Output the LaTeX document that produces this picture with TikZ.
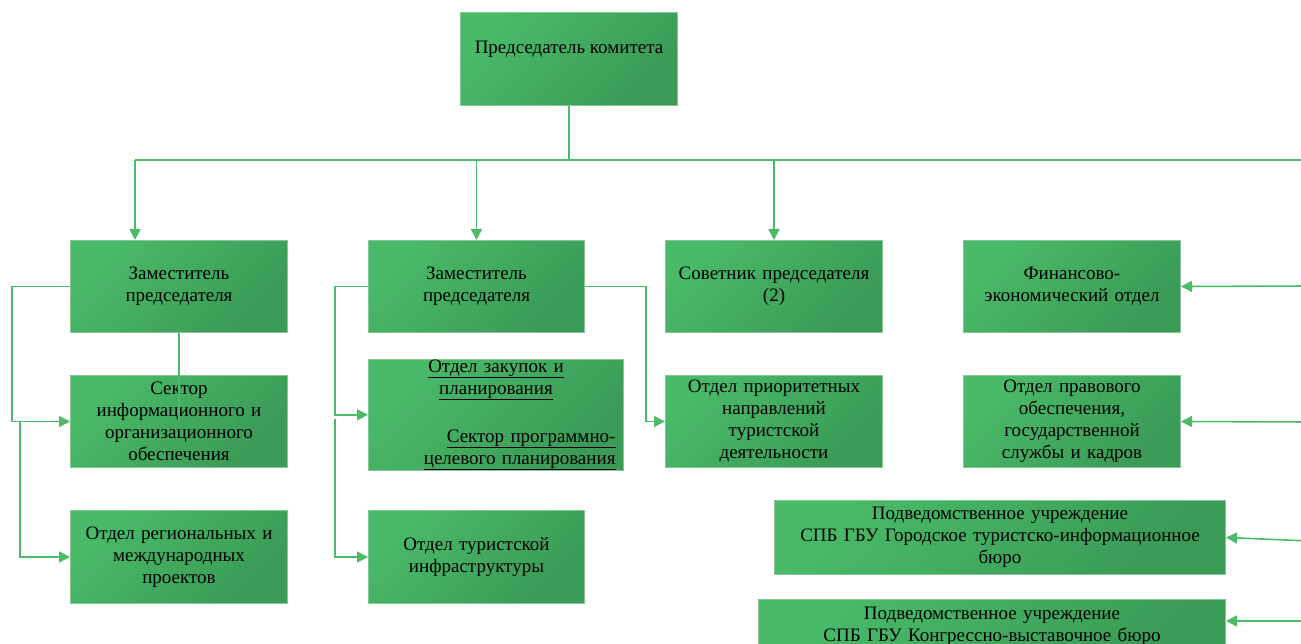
\documentclass[tikz,border=0pt]{standalone}
\usepackage{fontspec}
\setmainfont{Liberation Serif}
\usetikzlibrary{arrows.meta,positioning}
\definecolor{boxlight}{HTML}{49BA68}
\definecolor{boxdark}{HTML}{3A9A56}
\definecolor{boxline}{HTML}{86C597}
\definecolor{wire}{HTML}{4CBB68}
\tikzset{
  unit/.style={draw=boxline,line width=1pt,top color=boxlight,bottom color=boxdark,shading angle=45,
    anchor=north west,inner sep=0pt,align=center,font=\fontsize{19}{22}\selectfont},
  wire/.style={draw=wire,line width=1.6pt},
  >={Triangle[length=11pt,width=11pt]}
}
\newcommand{\ul}[1]{\underline{#1}}
\begin{document}
\begin{tikzpicture}[x=1pt,y=-1pt]
    \useasboundingbox (0,0) rectangle (1301,644);

    \node[unit,minimum width=217pt,minimum height=93pt,text depth=24pt] (0) at (460,12) {Председатель комитета};
    % first row
    \node[unit,minimum width=217pt,minimum height=92pt,text width=205pt] (1) at (70,240) {Заместитель\\председателя};
    \node[unit,minimum width=216pt,minimum height=92pt,text width=205pt] (2) at (368,240) {Заместитель\\председателя};
    \node[unit,minimum width=217pt,minimum height=92pt,text width=210pt] (3) at (665,240) {Советник председателя\\(2)};
    \node[unit,minimum width=217pt,minimum height=92pt,text width=205pt] (4) at (963,240) {Финансово-\\экономический отдел};
    % second row
    \node[unit,minimum width=217pt,minimum height=92pt,text width=205pt] (5) at (70,375) {Сектор\\информационного и\\организационного\\обеспечения};
    \node[unit,minimum width=255pt,minimum height=109pt,text width=239pt] (6) at (368,359)
        {\ul{Отдел закупок и}\\\ul{планирования}\\[26pt]\hskip 0pt plus 1fill\ul{Сектор программно-}\\\hskip 0pt plus 1fill\ul{целевого планирования}};
    \node[unit,minimum width=217pt,minimum height=92pt,text width=205pt] (7) at (665,375) {Отдел приоритетных\\направлений\\туристской\\деятельности};
    \node[unit,minimum width=217pt,minimum height=92pt,text width=205pt] (8) at (963,375) {Отдел правового\\обеспечения,\\государственной\\службы и кадров};
    % third row
    \node[unit,minimum width=217pt,minimum height=93pt,text width=205pt] (9) at (70,510) {Отдел региональных и\\международных\\проектов};
    \node[unit,minimum width=216pt,minimum height=93pt,text width=205pt] (10) at (368,510) {Отдел туристской\\инфраструктуры};
    \node[unit,minimum width=451pt,minimum height=74pt,text width=440pt] (11) at (774,500) {Подведомственное учреждение\\СПБ ГБУ Городское туристско-информационное\\бюро};
    \node[unit,minimum width=467pt,minimum height=74pt,text width=455pt,text depth=47pt] (12) at (758,599) {Подведомственное учреждение\\СПБ ГБУ Конгрессно-выставочное бюро};

    \coordinate (b1) at (135,160);
    \coordinate (b2) at (1310,160);
    \coordinate (c1) at (335,419);
    \coordinate (r1) at (1310,286);
    \coordinate (r2) at (1310,422);
    \coordinate (r3) at (1310,541);
    \coordinate (r4) at (1310,621);

    \draw [wire] (0.south) -- (0.south |- b1);
    \draw [wire] (b1) -- (b2);
    \draw [wire,->] (b1) -- (1.north -| b1);
    \draw [wire,->] (2.north |- b1) -- (2.north);
    \draw [wire,->] (3.north |- b1) -- (3.north);

    \draw [wire,->] (1.west) -- ++(-58,0) |- (5.west);
    \draw [wire,->] (5.west) ++(-50,0) |- (9.west);
    \draw [wire] (1.south) -- ++(0,88);
    \draw [wire,->] (2.west) -- ++(-33,0) |- (6.west);
    \draw [wire,->] (c1) |- (10.west);
    \draw [wire,->] (2.east) -- ++(61,0) |- (7.west);

    \draw [wire,->] (r1) -- (4.east);
    \draw [wire,->] (r2) -- (8.east);
    \draw [wire,->] (r3) -- (11.east);
    \draw [wire,->] (r4) -- (12.east |- r4);
\end{tikzpicture}
\end{document}
